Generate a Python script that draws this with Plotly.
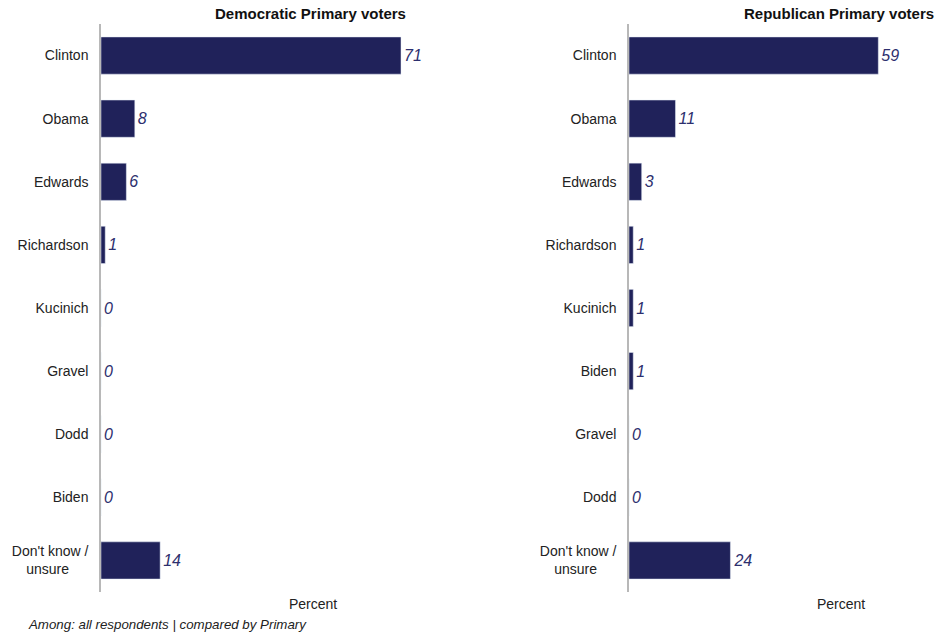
import plotly.graph_objects as go

dem_categories = ["Clinton", "Obama", "Edwards", "Richardson", "Kucinich", "Gravel", "Dodd", "Biden", "Don't know / unsure"]
dem_values = [71, 8, 6, 1, 0, 0, 0, 0, 14]
dem_ticklabels = ["Clinton", "Obama", "Edwards", "Richardson", "Kucinich", "Gravel", "Dodd", "Biden",
                  "Don't know /<br>unsure&nbsp;&nbsp;&nbsp;&nbsp;&nbsp;"]

rep_categories = ["Clinton", "Obama", "Edwards", "Richardson", "Kucinich", "Biden", "Gravel", "Dodd", "Don't know / unsure"]
rep_values = [59, 11, 3, 1, 1, 1, 0, 0, 24]
rep_ticklabels = ["Clinton", "Obama", "Edwards", "Richardson", "Kucinich", "Biden", "Gravel", "Dodd",
                  "Don't know /<br>unsure&nbsp;&nbsp;&nbsp;&nbsp;&nbsp;"]

titles = ["Democratic Primary voters", "Republican Primary voters"]
axis_title = "Percent"
footnote = "Among: all respondents | compared by Primary"

W, H = 939, 632
BAR = "#20225a"
LBL = "#2d2f6e"
FONT = "Liberation Sans, Arial, Helvetica, sans-serif"

# pixel layout
top, bottom = 24, 592
lx0, rx0 = 101, 629
px_per_unit = 300 / 71.0
lx1 = lx0 + 100 * px_per_unit
rx1 = W
rrange = (rx1 - rx0) / px_per_unit

fig = go.Figure()
fig.add_trace(go.Bar(
    x=dem_values, y=dem_categories, orientation="h", marker_color=BAR,
    text=[str(v) for v in dem_values], textposition="outside", cliponaxis=False,
    textfont=dict(family=FONT, size=16, color=LBL, style="italic"),
    xaxis="x", yaxis="y", showlegend=False, hoverinfo="skip"))
fig.add_trace(go.Bar(
    x=rep_values, y=rep_categories, orientation="h", marker_color=BAR,
    text=[str(v) for v in rep_values], textposition="outside", cliponaxis=False,
    textfont=dict(family=FONT, size=16, color=LBL, style="italic"),
    xaxis="x2", yaxis="y2", showlegend=False, hoverinfo="skip"))

ydom = [1 - bottom / H, 1 - top / H]
common_x = dict(showgrid=False, zeroline=False, showticklabels=False, showline=False, fixedrange=True)
common_y = dict(showgrid=False, zeroline=False, showline=True, linecolor="#b8b8b8", linewidth=1.5,
                autorange="reversed", type="category",
                tickfont=dict(family=FONT, size=14, color="#222222"), ticks="", ticklabelstandoff=8)

fig.update_layout(
    width=W, height=H, margin=dict(l=0, r=0, t=0, b=0),
    paper_bgcolor="white", plot_bgcolor="white",
    bargap=0.41,
    xaxis=dict(domain=[lx0 / W, lx1 / W], range=[0, 100], anchor="y", **common_x),
    xaxis2=dict(domain=[rx0 / W, rx1 / W], range=[0, rrange], anchor="y2", **common_x),
    yaxis=dict(domain=ydom, anchor="x", tickvals=dem_categories, ticktext=dem_ticklabels, **common_y),
    yaxis2=dict(domain=ydom, anchor="x2", tickvals=rep_categories, ticktext=rep_ticklabels, **common_y),
    font=dict(family=FONT),
)

def px(xp):
    return xp / W

def py(yp):
    return 1 - yp / H

fig.add_annotation(x=px(408), y=py(13), xref="paper", yref="paper", xanchor="right", yanchor="middle",
                   text="<b>" + titles[0] + "</b>", showarrow=False,
                   font=dict(family=FONT, size=15, color="#111111"))
fig.add_annotation(x=px(936), y=py(13), xref="paper", yref="paper", xanchor="right", yanchor="middle",
                   text="<b>" + titles[1] + "</b>", showarrow=False,
                   font=dict(family=FONT, size=15, color="#111111"))
fig.add_annotation(x=px(313), y=py(604), xref="paper", yref="paper", xanchor="center", yanchor="middle",
                   text=axis_title, showarrow=False, font=dict(family=FONT, size=14, color="#222222"))
fig.add_annotation(x=px(841), y=py(604), xref="paper", yref="paper", xanchor="center", yanchor="middle",
                   text=axis_title, showarrow=False, font=dict(family=FONT, size=14, color="#222222"))
fig.add_annotation(x=px(26), y=py(624), xref="paper", yref="paper", xanchor="left", yanchor="middle",
                   text="<i>" + footnote + "</i>", showarrow=False,
                   font=dict(family=FONT, size=13.3, color="#222222"))

fig.write_html("out.html", config={"displayModeBar": False},
               post_script="document.body.style.margin='0';document.body.style.overflow='hidden';")
